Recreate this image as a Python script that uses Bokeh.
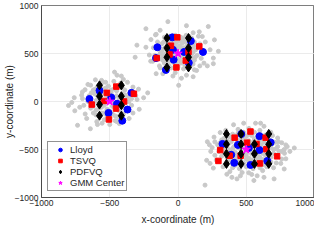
from bokeh.plotting import figure
from bokeh.models import Range1d, FixedTicker
from bokeh.embed import file_html
from bokeh.resources import INLINE

# ---- data ----
ticks = [-1000, -500, 0, 500, 1000]

# background samples (gray), cluster around (0, 500)
g1_x = [-120, -90, -60, -30, 0, 30, 60, 90, 120,
        -140, -110, -80, -50, -20, 10, 40, 70, 100, 130,
        -130, -100, -70, -40, -10, 20, 50, 80, 110, 140,
        -120, -90, -60, -30, 0, 30, 60, 90, 120,
        -100, -70, -40, -10, 20, 50, 80, 110,
        -60, -20, 20, 60, 100, -100,
        -50, 0, 40, -150, 160, 170, -170,
        -105, -75, -45, -15, 15, 45, 75, 105,
        -125, -95, -65, -35, -5, 25, 55, 85, 115,
        -115, -85, -55, -25, 5, 35, 65, 95, 125,
        -105, -75, -45, -15, 15, 45, 75, 105,
        -80, -20, 60, 90, -40, 0, 40, 80,
        -180, -200, 180, 190, -130, 150, -160, 120, -20, 200,
        -235, -74, 222, 156, -301, -314, 267, 296, 259, 259, 215, -160, -37, 5,
        -198, -131, -165, 62, 111, 178, -136, -111, 62, 136, 160, 235, -210, -235, -185, 25, 111]
g1_y = [600, 640, 620, 600, 630, 610, 640, 600, 620,
        560, 540, 580, 560, 570, 580, 560, 590, 560, 540,
        500, 490, 520, 500, 520, 490, 530, 500, 510, 480,
        440, 460, 430, 460, 440, 470, 440, 460, 430,
        400, 380, 410, 390, 400, 380, 420, 390,
        680, 690, 670, 690, 660, 670,
        350, 360, 340, 620, 600, 450, 480,
        620, 610, 640, 610, 640, 620, 620, 640,
        520, 560, 550, 580, 550, 560, 560, 570, 580,
        470, 500, 480, 480, 490, 510, 470, 480, 460,
        420, 420, 440, 420, 430, 410, 400, 440,
        360, 370, 360, 370, 660, 670, 660, 680,
        560, 420, 520, 400, 350, 680, 700, 330, 300, 620,
        758, 832, 781, 726, 587, 461, 642, 523, 452, 394, 371, 290, 265, 168,
        645, 742, 694, 790, 716, 677, 371, 290, 274, 323, 371, 539, 484, 565, 419, 242, 258]

# cluster around (-500, 0)
g2_x = [-620, -590, -550, -510, -470, -430, -390,
        -650, -610, -570, -530, -490, -450, -410, -370, -340,
        -660, -620, -580, -540, -500, -460, -420, -380, -340,
        -640, -600, -560, -520, -480, -440, -400, -360,
        -600, -560, -520, -480, -440, -400, -540, -460,
        -530, -470, -420, -700, -300, -690,
        -605, -570, -530, -490, -450, -410,
        -635, -590, -550, -510, -470, -430, -390, -355,
        -640, -600, -560, -520, -480, -440, -400, -360,
        -620, -580, -540, -500, -460, -420, -380,
        -580, -540, -500, -460, -420, -620,
        -700, -720, -680, -330, -310, -560, -400, -640, -330, -500, -430, -760, -590,
        -802, -778, -736, -642, -556, -465, -447, -415, -222, -252, -284, -681, -706, -756,
        -669, -595, -447, -358, -289, -370, -605, -551, -660]
g2_y = [120, 150, 130, 160, 130, 150, 120,
        60, 80, 40, 70, 90, 60, 80, 50, 30,
        0, -20, 10, -10, 20, -20, 10, -10, -40,
        -70, -90, -60, -80, -50, -90, -60, -90,
        -140, -120, -150, -130, -160, -130, -190, -200,
        200, 210, 190, 30, 20, -40,
        130, 120, 140, 120, 110, 140,
        90, 60, 90, 50, 40, 30, 70, 80,
        30, 10, -30, 0, -10, -40, 20, 0,
        -50, -70, -40, -100, -70, -110, -70,
        -150, -120, -170, -150, -160, -120,
        100, -60, -130, -120, 60, 220, 230, 170, 150, -240, -230, 40, -240,
        -42, -10, -248, -284, -226, 306, 274, 265, 90, 39, -81, 123, 65, -97,
        -177, -210, -210, -177, 129, 200, 226, 200, 178]

# cluster around (500, -500)
g3_x = [360, 400, 440, 480, 520, 560, 600, 640,
        320, 360, 400, 440, 480, 520, 560, 600, 640, 680,
        290, 330, 370, 410, 450, 490, 530, 570, 610, 650, 690, 730,
        300, 340, 380, 420, 460, 500, 540, 580, 620, 660, 700, 740,
        320, 360, 400, 440, 480, 520, 560, 600, 640, 680, 720,
        360, 400, 440, 480, 520, 560, 600, 640, 680,
        400, 450, 500, 550, 600, 650,
        760, 780, 250, 270,
        340, 380, 420, 460, 500, 540, 580, 620, 660,
        310, 350, 390, 430, 470, 510, 550, 590, 630, 670, 710,
        320, 360, 400, 440, 480, 520, 560, 600, 640, 680, 720,
        340, 380, 420, 460, 500, 540, 580, 620, 660, 700,
        380, 420, 460, 500, 540, 580, 620, 660,
        420, 470, 520, 570, 620,
        270, 240, 280, 230, 800, 820, 760, 720, 330, 380, 470, 540, 620, 700, 440, 520, 600, 680, 350, 730, 760,
        210, 215, 264, 778, 852, 790, 778, 704, 630, 580, 518, 457, 395, 198, 568, 605, 630,
        481, 407, 235, 259, 790, 736, 692, 309, 753, 358, 432, 556]
g3_y = [-360, -340, -330, -320, -340, -320, -340, -350,
        -400, -410, -390, -400, -380, -410, -390, -400, -390, -410,
        -450, -460, -440, -470, -450, -460, -440, -470, -450, -460, -440, -470,
        -520, -500, -510, -530, -500, -520, -500, -530, -510, -520, -500, -520,
        -570, -590, -570, -580, -560, -590, -570, -580, -560, -580, -560,
        -630, -650, -620, -640, -630, -650, -620, -640, -630,
        -690, -700, -680, -700, -690, -680,
        -430, -540, -480, -560,
        -380, -370, -360, -350, -365, -355, -370, -375, -380,
        -430, -425, -420, -435, -420, -430, -425, -430, -420, -430, -425,
        -485, -480, -490, -480, -490, -480, -490, -480, -490, -480, -490,
        -545, -550, -555, -540, -555, -545, -550, -540, -550, -540,
        -605, -600, -610, -600, -610, -600, -605, -600,
        -665, -660, -665, -660, -660,
        -420, -520, -610, -450, -470, -520, -600, -640, -680, -730, -740, -760, -720, -690, -290, -280, -300, -320, -300, -380, -520,
        -613, -419, -371, -500, -484, -597, -703, -806, -790, -774, -742, -774, -790, -871, -226, -226, -258,
        -226, -242, -645, -694, -452, -419, -355, -323, -645, -758, -806, -823]

lloyd_x = [-42, -151, -37, 94, 183, -161, -32, 79, -89, 44,
           -575, -649, -489, -447, -370, -509, -408, -341,
           326, 464, 597, 679, 439, 597, 390, 412, 531, 654, 519]
lloyd_y = [668, 565, 539, 629, 516, 452, 435, 403, 329, 516,
           113, 26, 42, -23, -84, -119, -200, 90,
           -442, -339, -361, -426, -452, -506, -555, -639, -661, -619, -484]

tsvq_x = [-5, -52, -62, 156, 77, -156, -12, 57,
          -452, -521, -543, -395, -323, -632, -454, -506,
          531, 415, 642, 309, 378, 506, 575, 647, 296, 600, 726, 459]
tsvq_y = [668, 581, 490, 574, 516, 452, 355, 426,
          155, 90, 6, 0, 81, -32, -74, -187,
          -313, -377, -377, -506, -565, -429, -442, -497, -619, -645, -571, -565]

pdfvq_x = [-81, 77, -81, 77, -81, 77, -81, 77,
           -575, -415, -575, -415, -575, -415, -575, -415,
           355, 462, 665, 355, 462, 560, 665, 355, 462, 560, 665, 355, 462, 560, 665]
pdfvq_y = [661, 661, 558, 558, 461, 461, 355, 355,
           168, 168, 55, 55, -32, -39, -148, -148,
           -338, -338, -338, -445, -445, -445, -445, -545, -545, -545, -545, -650, -650, -650, -650]

gmm_x = [0, -500, 500]
gmm_y = [500, 0, -500]

gray_x = g1_x + g2_x + g3_x
gray_y = g1_y + g2_y + g3_y

# ---- figure ----
FONT = "Liberation Sans"
TXT = "#262626"

p = figure(width=314, height=227, output_backend="svg", toolbar_location=None,
           x_range=Range1d(-1000, 1000), y_range=Range1d(-1000, 1000),
           min_border_left=0, min_border_right=0, min_border_top=5, min_border_bottom=0)

p.background_fill_color = "white"
p.border_fill_color = "white"
p.outline_line_color = TXT
p.outline_line_width = 0.6

for ax in (p.xaxis, p.yaxis):
    ax.ticker = FixedTicker(ticks=ticks)
    ax.major_tick_in = 0
    ax.major_tick_out = 0
    ax.minor_tick_line_color = None
    ax.axis_line_color = TXT
    ax.axis_line_width = 0.6
    ax.major_label_text_font = FONT
    ax.major_label_text_font_size = "8.5px"
    ax.major_label_text_color = TXT
    ax.axis_label_text_font = FONT
    ax.axis_label_text_font_size = "10px"
    ax.axis_label_text_font_style = "normal"
    ax.axis_label_text_color = TXT
    ax.major_label_standoff = 2

p.xaxis.axis_label_standoff = 5
p.yaxis.axis_label_standoff = -3
p.yaxis.major_label_standoff = 3

p.xaxis.axis_label = "x-coordinate (m)"
p.yaxis.axis_label = "y-coordinate (m)"

p.grid.grid_line_color = "#e6e6e6"
p.grid.grid_line_width = 0.8

p.scatter(gray_x, gray_y, marker="circle", size=4, fill_color="#c8c8c8", line_color="#c8c8c8")
p.scatter(lloyd_x, lloyd_y, marker="circle", size=7, fill_color="#0000ff", line_color="#0000ff",
          legend_label="Lloyd")
p.scatter(tsvq_x, tsvq_y, marker="square", size=5.5, fill_color="#ff0000", line_color="#ff0000",
          legend_label="TSVQ")
p.scatter(pdfvq_x, pdfvq_y, marker="diamond", size=9, fill_color="black", line_color="black",
          legend_label="PDFVQ")
p.scatter(gmm_x, gmm_y, marker="star", size=9, fill_color="#ff00ff", line_color="#ff00ff",
          legend_label="GMM Center")

lg = p.legend[0]
lg.location = "bottom_left"
lg.margin = 6
lg.padding = 2
lg.spacing = 0
lg.glyph_width = 20
lg.glyph_height = 9
lg.label_height = 9
lg.label_standoff = 0
lg.label_text_font = FONT
lg.label_text_font_size = "9.5px"
lg.label_text_color = TXT
lg.border_line_color = TXT
lg.border_line_width = 0.6
lg.background_fill_color = "white"
lg.background_fill_alpha = 1.0

open("out.html", "w").write(file_html(p, INLINE))
